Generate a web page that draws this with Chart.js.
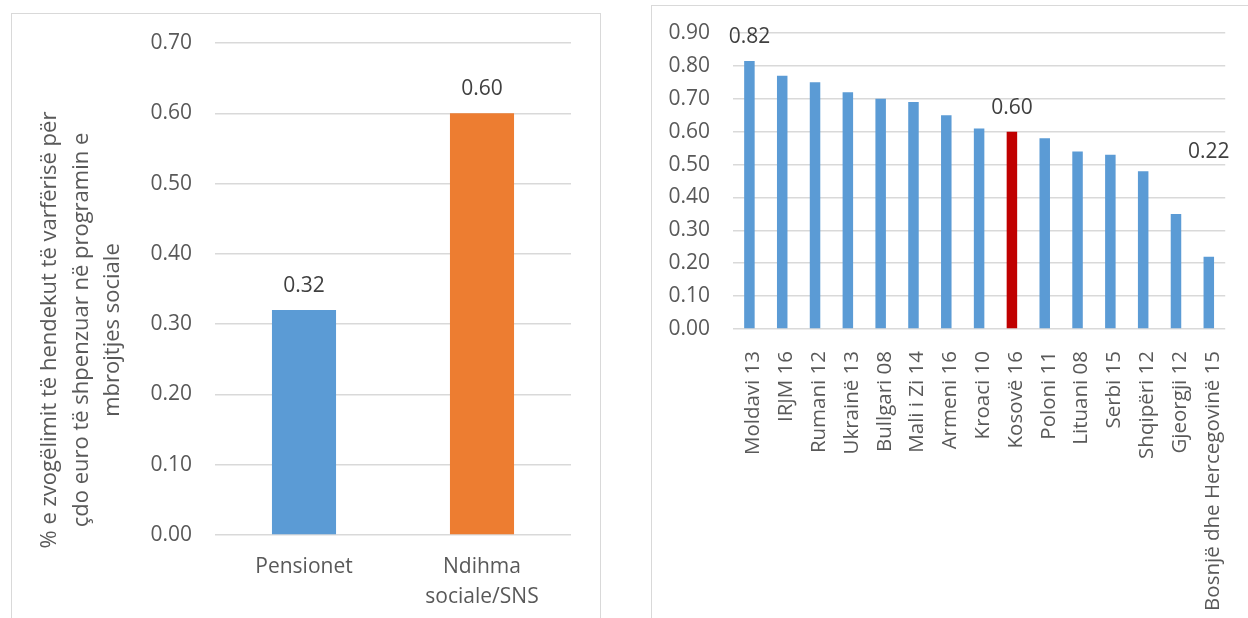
<!DOCTYPE html>
<html><head><meta charset="utf-8">
<script src="https://cdn.jsdelivr.net/npm/chart.js@4.4.0/dist/chart.umd.min.js"></script>
<style>
html,body{margin:0;padding:0;background:#fff;overflow:hidden;width:1248px;height:618px;}
.panel{position:absolute;border:1px solid #d9d9d9;box-sizing:border-box;background:#fff;}
#p1{left:11px;top:13px;width:590px;height:640px;}
#p2{left:651px;top:5px;width:620px;height:640px;}
canvas{position:absolute;left:0;top:0;}
</style></head><body>
<div class="panel" id="p1"><canvas id="c1" width="588" height="604"></canvas></div>
<div class="panel" id="p2"><canvas id="c2" width="596" height="612"></canvas></div>
<script>
// ---- Data: left chart ----
const leftCategories = ['Pensionet', ['Ndihma', 'sociale/SNS']];
const leftValues = [0.32, 0.60];
const leftColors = ['#5B9BD5', '#ED7D31'];
const leftAxisTitle = ['% e zvogëlimit të hendekut të varfërisë për', 'çdo euro të shpenzuar në programin e', 'mbrojtjes sociale'];
const leftTickMax = 0.7;

// ---- Data: right chart ----
const rightCategories = ['Moldavi 13', 'IRJM 16', 'Rumani 12', 'Ukrainë 13', 'Bullgari 08', 'Mali i Zi 14', 'Armeni 16', 'Kroaci 10', 'Kosovë 16', 'Poloni 11', 'Lituani 08', 'Serbi 15', 'Shqipëri 12', 'Gjeorgji 12', 'Bosnjë dhe Hercegovinë 15'];
const rightValues = [0.815, 0.77, 0.75, 0.72, 0.70, 0.69, 0.65, 0.61, 0.60, 0.58, 0.54, 0.53, 0.48, 0.35, 0.22];
const rightHighlight = 'Kosovë 16';
const rightLabelled = ['Moldavi 13', 'Kosovë 16', 'Bosnjë dhe Hercegovinë 15'];
const rightTickMax = 0.9;

const BLUE = '#5B9BD5', RED = '#C00000';
const FONT = "'Open Sans', 'Liberation Sans', sans-serif";
const TICK_COLOR = '#595959', LABEL_COLOR = '#404040', GRID = '#D9D9D9';

const fmt = v => (Math.round(v * 100 + 1e-6) / 100).toFixed(2);

const valueLabels = {
  id: 'valueLabels',
  afterDatasetsDraw(chart, args, opts) {
    const meta = chart.getDatasetMeta(0);
    const data = chart.data.datasets[0].data;
    const labels = chart.data.labels;
    const ctx = chart.ctx;
    ctx.save();
    ctx.font = opts.font;
    ctx.fillStyle = opts.color;
    ctx.textAlign = 'center';
    ctx.textBaseline = 'alphabetic';
    meta.data.forEach((bar, i) => {
      if (opts.only && !opts.only.includes(labels[i])) return;
      const extra = (opts.extra && opts.extra[labels[i]]) || 0;
      ctx.fillText(fmt(data[i]), bar.x, bar.y - opts.gap - extra);
    });
    ctx.restore();
  }
};

const rotatedTitle = {
  id: 'rotatedTitle',
  afterDraw(chart, args, opts) {
    const ctx = chart.ctx;
    ctx.save();
    ctx.font = opts.font;
    ctx.fillStyle = opts.color;
    ctx.textAlign = 'center';
    ctx.textBaseline = 'middle';
    ctx.translate(opts.x, opts.y);
    ctx.rotate(-Math.PI / 2);
    opts.lines.forEach((l, i) => ctx.fillText(l, 0, i * opts.lineHeight));
    ctx.restore();
  }
};

const fitY = w => s => { s.width = w; s.paddingTop = 0; s.paddingBottom = 0; };

new Chart(document.getElementById('c1'), {
  type: 'bar',
  data: {
    labels: leftCategories,
    datasets: [{ data: leftValues, backgroundColor: leftColors, barPercentage: 0.36, categoryPercentage: 1 }]
  },
  plugins: [valueLabels, rotatedTitle],
  options: {
    responsive: false,
    animation: false,
    events: [],
    layout: { padding: { left: 0, top: 29, right: 29, bottom: 0 } },
    plugins: {
      legend: { display: false },
      tooltip: { enabled: false },
      valueLabels: { font: "21px " + FONT, color: LABEL_COLOR, gap: 18 },
      rotatedTitle: { font: "22px " + FONT, color: TICK_COLOR, lines: leftAxisTitle, x: 38, y: 316, lineHeight: 31.5 }
    },
    scales: {
      x: {
        grid: { display: false },
        border: { display: false },
        ticks: { color: TICK_COLOR, font: { family: FONT, size: 21, lineHeight: 1.43 }, padding: 9, maxRotation: 0, autoSkip: false },
        afterFit: s => { s.height = 83; }
      },
      y: {
        min: 0, max: leftTickMax,
        grid: { color: GRID, lineWidth: 1.5, drawTicks: false },
        border: { display: false },
        ticks: { stepSize: 0.1, color: TICK_COLOR, font: { family: FONT, size: 21 }, padding: 23, callback: v => v.toFixed(2) },
        afterFit: fitY(203)
      }
    }
  }
});

new Chart(document.getElementById('c2'), {
  type: 'bar',
  data: {
    labels: rightCategories,
    datasets: [{ data: rightValues, backgroundColor: rightCategories.map(c => c === rightHighlight ? RED : BLUE), barPercentage: 0.32, categoryPercentage: 1 }]
  },
  plugins: [valueLabels],
  options: {
    responsive: false,
    animation: false,
    events: [],
    layout: { padding: { left: 0, top: 27, right: 18, bottom: 0 } },
    plugins: {
      legend: { display: false },
      tooltip: { enabled: false },
      valueLabels: { font: "21px " + FONT, color: LABEL_COLOR, gap: 18, only: rightLabelled, extra: { 'Bosnjë dhe Hercegovinë 15': 81 } }
    },
    scales: {
      x: {
        grid: { display: false },
        border: { display: false },
        ticks: { color: TICK_COLOR, font: { family: FONT, size: 20.5 }, padding: 14, labelOffset: 4, minRotation: 90, maxRotation: 90, autoSkip: false },
        afterFit: s => { s.height = 289; }
      },
      y: {
        min: 0, max: rightTickMax,
        grid: { color: GRID, lineWidth: 1.5, drawTicks: false },
        border: { display: false },
        ticks: { stepSize: 0.1, color: TICK_COLOR, font: { family: FONT, size: 21 }, padding: 23, callback: v => v.toFixed(2) },
        afterFit: fitY(81)
      }
    }
  }
});
</script>
</body></html>
